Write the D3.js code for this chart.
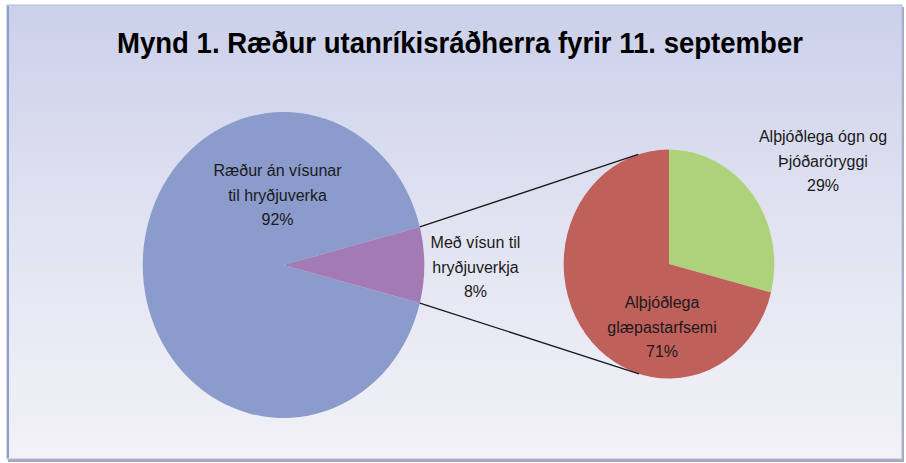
<!DOCTYPE html>
<html><head><meta charset="utf-8">
<script src="https://cdn.jsdelivr.net/npm/d3@7"></script>
<style>body{margin:0;background:#fff}</style>
</head><body><svg id="c" width="906" height="463"></svg>
<script>
const title = "Mynd 1. Ræður utanríkisráðherra fyrir 11. september";
const mainCategories = ["Ræður án vísunar til hryðjuverka", "Með vísun til hryðjuverkja"];
const mainValues = [92, 8];
const mainLabelLines = [["Ræður án vísunar", "til hryðjuverka"], ["Með vísun til", "hryðjuverkja"]];
const subCategories = ["Alþjóðlega ógn og Þjóðaröryggi", "Alþjóðlega glæpastarfsemi"];
const subValues = [29, 71];
const subLabelLines = [["Alþjóðlega ógn og", "Þjóðaröryggi"], ["Alþjóðlega", "glæpastarfsemi"]];
const mainColors = ["#8a9bcc", "#a37ab4"];
const subColors = ["#aed27a", "#c0605b"];

const W = 906, H = 463;
const svg = d3.select("#c");
const defs = svg.append("defs");
const bg = defs.append("linearGradient").attr("id","bg").attr("x1",0).attr("y1",0).attr("x2",0).attr("y2",1);
bg.append("stop").attr("offset","0%").attr("stop-color","#cbd0ea");
bg.append("stop").attr("offset","45%").attr("stop-color","#e0e2f1");
bg.append("stop").attr("offset","100%").attr("stop-color","#f2f2f7");

// frame
svg.append("rect").attr("x",8).attr("y",7).attr("width",896).attr("height",455).attr("fill","#a5a8b8");
svg.append("rect").attr("x",7).attr("y",5).attr("width",895).attr("height",454)
  .attr("fill","url(#bg)").attr("stroke","#b4bbdc").attr("stroke-width",1);
svg.append("line").attr("x1",8).attr("x2",8).attr("y1",6).attr("y2",458).attr("stroke","#8e9bd0").attr("stroke-width",2);

svg.append("text").attr("x",460).attr("y",53).attr("text-anchor","middle")
  .attr("font-family","Liberation Sans, Arial, sans-serif").attr("font-weight","bold")
  .attr("font-size",30).attr("textLength",686).attr("lengthAdjust","spacingAndGlyphs")
  .attr("fill","#000").text(title);

const sx = 0.92;
const main = {cx: 283.5, cy: 265, r: 153};
const sub = {cx: 669, cy: 264, r: 114.5};

const mainTotal = d3.sum(mainValues);
const splitAngle = 2*Math.PI*mainValues[1]/mainTotal;
const mainStart = Math.PI/2 + splitAngle/2;
const mainArcs = d3.pie().sort(null).startAngle(mainStart).endAngle(mainStart + 2*Math.PI)(mainValues);
const subArcs = d3.pie().sort(null).startAngle(0).endAngle(2*Math.PI)(subValues);

const arcMain = d3.arc().innerRadius(0).outerRadius(main.r);
const arcSub = d3.arc().innerRadius(0).outerRadius(sub.r);

svg.append("g").attr("transform",`translate(${main.cx},${main.cy}) scale(${sx},1)`)
  .selectAll("path").data(mainArcs).join("path")
  .attr("d", arcMain).attr("fill",(d,i)=>mainColors[i]);
svg.append("g").attr("transform",`translate(${sub.cx},${sub.cy}) scale(${sx},1)`)
  .selectAll("path").data(subArcs).join("path")
  .attr("d", arcSub).attr("fill",(d,i)=>subColors[i]);

// connector lines
const split = mainArcs[1];
function edge(a){ return [main.cx + sx*main.r*Math.sin(a), main.cy - main.r*Math.cos(a)]; }
function tangent(p, upper){
  const px = (p[0]-sub.cx)/(sx*sub.r), py = (p[1]-sub.cy)/sub.r;
  const d = Math.hypot(px,py), phi = Math.atan2(py,px), al = Math.acos(1/d);
  const c = [phi+al, phi-al].map(t=>[Math.cos(t),Math.sin(t)]);
  const t = upper ? (c[0][1] < c[1][1] ? c[0] : c[1]) : (c[0][1] > c[1][1] ? c[0] : c[1]);
  return [sub.cx + sx*sub.r*t[0], sub.cy + sub.r*t[1]];
}
const pTop = edge(split.startAngle), pBot = edge(split.endAngle);
[[pTop, tangent(pTop,true)],[pBot, tangent(pBot,false)]].forEach(([a,b])=>{
  svg.append("line").attr("x1",a[0]).attr("y1",a[1]).attr("x2",b[0]).attr("y2",b[1])
    .attr("stroke","#1a1a1a").attr("stroke-width",1.3);
});

// labels
const font = "Liberation Sans, Arial, sans-serif";
function label(x, y, lines){
  const t = svg.append("text").attr("x",x).attr("y",y).attr("text-anchor","middle")
    .attr("font-family",font).attr("font-size",16).attr("fill","#1a1a1a");
  lines.forEach((l,i)=>t.append("tspan").attr("x",x).attr("dy", i===0?0:24.5).text(l));
}
const pct = v => Math.round(v) + "%";
label(main.cx - 6, main.cy - 89, [...mainLabelLines[0], pct(mainValues[0]/mainTotal*100)]);
label(main.cx + 192, main.cy - 17, [...mainLabelLines[1], pct(mainValues[1]/mainTotal*100)]);
const subTotal = d3.sum(subValues);
label(sub.cx + 154, sub.cy - 122, [...subLabelLines[0], pct(subValues[0]/subTotal*100)]);
label(sub.cx - 7, sub.cy + 44, [...subLabelLines[1], pct(subValues[1]/subTotal*100)]);
</script></body></html>
